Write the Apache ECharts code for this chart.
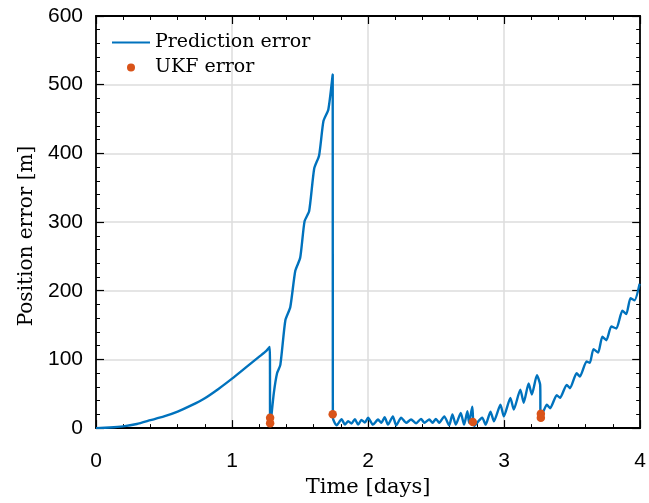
<!DOCTYPE html>
<html>
<head>
<meta charset="utf-8">
<script src="https://cdn.jsdelivr.net/npm/echarts@6/dist/echarts.min.js"></script>
<style>html,body{margin:0;padding:0;background:#fff;}#c{width:649px;height:503px;}</style>
</head>
<body>
<div id="c"></div>
<script>
// Prediction error: time [days] and error [m]
const predDays = [0,0.1,0.2,0.3,0.4,0.5,0.6,0.7,0.8,0.9,1.0,1.1,1.2,1.25,1.277,
  1.281,1.307,1.331,1.355,1.392,1.428,1.465,1.501,1.533,1.567,1.604,1.640,1.672,1.708,1.740,
  1.741,1.769,1.805,1.830,1.854,1.878,1.903,1.927,1.951,1.976,2.0,2.036,2.073,2.097,2.122,2.146,2.182,2.207,2.243,2.280,2.316,2.353,2.389,2.414,2.450,2.474,2.499,2.523,2.560,2.596,2.620,2.645,2.681,2.706,2.730,2.742,2.766,
  2.779,2.839,2.864,2.900,2.925,2.973,2.998,3.046,3.071,3.119,3.144,3.180,3.204,3.241,3.265,
  3.268,3.290,3.314,3.338,3.387,3.411,3.460,3.484,3.533,3.557,3.606,3.630,3.657,3.691,3.722,3.752,3.788,3.825,3.869,3.898,3.929,3.959,3.996];
const predErr = [0,0.8,2.5,6,11.5,17,24,33,43.5,57,72,88,104,112,118,
  3,51,80,92,157,176,229,248,301,316,378,397,447,464,515,
  15,4,13,5,10,6.5,13,5,12,8,15,5,12.5,7.7,16,5,17,4,15,7.7,12.5,7,13.5,7.7,12.5,7.7,13.5,7.7,17,4,20,5,22,5,24.5,7.7,31,
  3,15,5,24,10,34,17,44,27,56,37,65,49,77,63,
  17,25,34,29,48,44,63,58,80,75,97,95,115,110,133,128,148,145,171,166,189,186,210];
// UKF error
const ukfDays = [1.28,1.28,1.74,2.77,3.27,3.27];
const ukfErr = [7,15,20,9,15,21];
const xTicks = [0,1,2,3,4];
const yTicks = [0,100,200,300,400,500,600];

const predData = predDays.map((d,i)=>[d,predErr[i]]);
const ukfData = ukfDays.map((d,i)=>[d,ukfErr[i]]);

const tickCommon = {show:true, inside:true, length:8, lineStyle:{color:'#000', width:1.2}};
const minorCommon = {show:true, splitNumber:5, length:4, lineStyle:{color:'#000', width:1}};
const axisLineCommon = {show:true, onZero:false, lineStyle:{color:'#000', width:1.8}};
const labelFont = {fontFamily:'Liberation Sans', fontSize:21, color:'#000'};
const serif = 'DejaVu Serif';

const chart = echarts.init(document.getElementById('c'), null, {renderer:'canvas'});
chart.setOption({
  backgroundColor:'#fff',
  animation:false,
  grid:{left:96, right:5, top:16, bottom:71},
  legend:{
    orient:'vertical', left:106, top:28, itemWidth:38, itemHeight:8, itemGap:6,
    textStyle:{fontFamily:serif, fontSize:19, color:'#000'},
    data:[{name:'Prediction error', itemStyle:{color:'rgba(0,0,0,0)', borderWidth:0}},
          {name:'UKF error', icon:'circle'}]
  },
  xAxis:[{
    type:'value', min:xTicks[0], max:xTicks[xTicks.length-1], interval:1,
    name:'Time [days]', nameLocation:'middle', nameGap:46,
    nameTextStyle:{fontFamily:serif, fontSize:21, color:'#000'},
    axisLine:axisLineCommon, axisTick:tickCommon, minorTick:minorCommon,
    axisLabel:Object.assign({margin:23}, labelFont),
    splitLine:{show:true, lineStyle:{color:'#dcdcdc', width:1.5}}
  },{
    type:'value', position:'top', min:0, max:4, interval:1,
    axisLine:axisLineCommon, axisTick:tickCommon, minorTick:minorCommon,
    axisLabel:{show:false}, splitLine:{show:false}
  }],
  yAxis:[{
    type:'value', min:yTicks[0], max:yTicks[yTicks.length-1], interval:100,
    name:'Position error [m]', nameLocation:'middle', nameGap:58,
    nameTextStyle:{fontFamily:serif, fontSize:20, color:'#000', padding:[0,28,0,0]},
    axisLine:axisLineCommon, axisTick:tickCommon, minorTick:minorCommon,
    axisLabel:Object.assign({margin:13}, labelFont),
    splitLine:{show:true, lineStyle:{color:'#dcdcdc', width:1.5}}
  },{
    type:'value', position:'right', min:0, max:600, interval:100,
    axisLine:axisLineCommon, axisTick:tickCommon, minorTick:minorCommon,
    axisLabel:{show:false}, splitLine:{show:false}
  }],
  series:[{
    name:'Prediction error', type:'line', data:predData, symbol:'none',
    smooth:0.2,
    lineStyle:{color:'#0072BD', width:2.4}, itemStyle:{color:'#0072BD'}, z:2
  },{
    name:'UKF error', type:'scatter', data:ukfData, symbol:'circle', symbolSize:8.5,
    itemStyle:{color:'#D95319', opacity:1}, z:3
  }]
});
</script>
</body>
</html>
